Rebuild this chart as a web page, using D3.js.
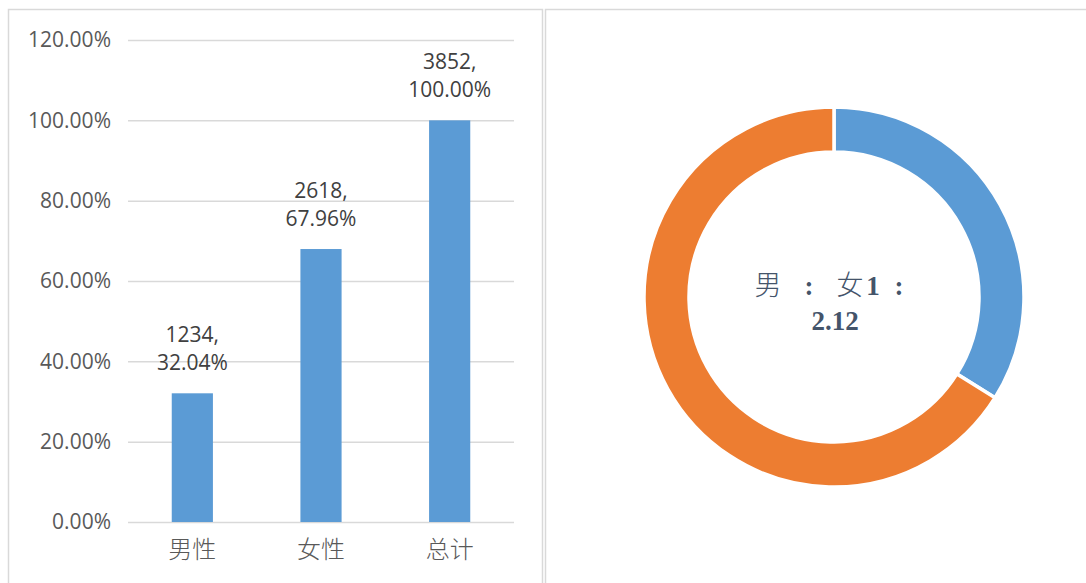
<!DOCTYPE html>
<html><head><meta charset="utf-8">
<script src="https://cdn.jsdelivr.net/npm/d3@7"></script>
<style>body{margin:0;background:#fff;} svg{display:block;}</style>
</head><body>
<svg id="c" width="1086" height="583"></svg>
<script>
const categories = ["男性", "女性", "总计"];
const counts = [1234, 2618, 3852];
const shares = [32.04, 67.96, 100.00];
const yTicks = [0, 20, 40, 60, 80, 100, 120];
const donutLabels = ["男", "女"];
const donutValues = [33.9, 66.1];   // slice shares as read from the drawn ring
const ratioParts = ["男", "：", "女", "1", "："];
const ratioLine2 = "2.12";

const svg = d3.select("#c");
svg.append("rect").attr("width",1086).attr("height",583).attr("fill","#fff");
// panel borders
svg.append("rect").attr("x",8.5).attr("y",9.5).attr("width",534).attr("height",620)
  .attr("fill","none").attr("stroke","#D9D9D9").attr("stroke-width",1.5);
svg.append("rect").attr("x",545.5).attr("y",9.5).attr("width",620).attr("height",620)
  .attr("fill","none").attr("stroke","#D9D9D9").attr("stroke-width",1.5);

// Bar chart
const x = d3.scaleBand().domain(categories).range([128, 514]).paddingInner(0.68).paddingOuter(0.34);
const y = d3.scaleLinear().domain([0, 120]).range([522, 40]);

const g = svg.append("g");
const yAxis = g.append("g").attr("transform","translate(128,0)")
  .call(d3.axisLeft(y).tickValues(yTicks).tickSize(-386).tickFormat(d => d.toFixed(2) + "%").tickPadding(17));
yAxis.select(".domain").remove();
yAxis.selectAll(".tick line").attr("stroke","#D9D9D9").attr("stroke-width",1.5);
yAxis.selectAll(".tick text").attr("fill","#595959").style("font-family","'Open Sans', sans-serif").style("font-size","21px");

g.selectAll("rect.bar").data(categories).join("rect").attr("class","bar")
  .attr("x", d => x(d)).attr("width", x.bandwidth())
  .attr("y", (d,i) => y(shares[i])).attr("height", (d,i) => y(0) - y(shares[i]))
  .attr("fill","#5B9BD5");

const xAxis = g.append("g").attr("transform","translate(0,522)")
  .call(d3.axisBottom(x).tickSize(0).tickPadding(19));
xAxis.select(".domain").remove();
xAxis.selectAll(".tick text").attr("fill","#595959").style("font-family","'Noto Sans CJK SC', sans-serif").style("font-size","24px").style("font-weight","300");

const lbl = g.selectAll("text.lbl").data(categories).join("text").attr("class","lbl")
  .attr("text-anchor","middle").attr("fill","#404040")
  .style("font-family","'Open Sans', sans-serif").style("font-size","21px");
lbl.append("tspan").attr("x", d => x(d) + x.bandwidth()/2).attr("y", (d,i) => y(shares[i]) - 51)
  .text((d,i) => counts[i] + ",");
lbl.append("tspan").attr("x", d => x(d) + x.bandwidth()/2).attr("y", (d,i) => y(shares[i]) - 23)
  .text((d,i) => shares[i].toFixed(2) + "%");

// Donut
const cx = 834, cy = 297;
const pie = d3.pie().sort(null).value(d => d);
const arc = d3.arc().innerRadius(145).outerRadius(190);
const colors = ["#5B9BD5", "#ED7D31"];
const dg = svg.append("g").attr("transform", `translate(${cx},${cy})`);
dg.selectAll("path").data(pie(donutValues)).join("path")
  .attr("d", arc).attr("fill", (d,i) => colors[i]).attr("stroke","#fff").attr("stroke-width",3.5);

const partX = [-66, -25, 16, 39, 65];
const partFont = ["'Noto Sans CJK SC', serif", "'Liberation Serif', serif", "'Noto Sans CJK SC', serif", "'Liberation Serif', serif", "'Liberation Serif', serif"];
const ct = dg.append("g").attr("fill","#44546A");
ct.selectAll("text.rp").data(ratioParts).join("text").attr("class","rp")
  .attr("text-anchor","middle").attr("x",(d,i)=>partX[i]).attr("y",-2)
  .style("font-family",(d,i)=>partFont[i]).style("font-size",(d,i)=> (i===0||i===2) ? "27px" : "27px")
  .style("font-weight",(d,i)=> (i===0||i===2) ? "300" : "bold")
  .text((d,i)=> (i===1||i===4) ? ":" : d);
ct.append("text").attr("text-anchor","middle").attr("x",1).attr("y",33)
  .style("font-family","'Liberation Serif', serif").style("font-size","27px").style("font-weight","bold")
  .text(ratioLine2);
</script>
</body></html>
